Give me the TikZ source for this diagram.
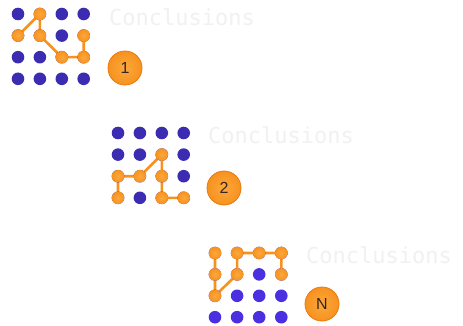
\documentclass[tikz,border=0pt]{standalone}
\usepackage{fontspec}
\newfontfamily\monofont{DejaVu Sans Mono}
\newfontfamily\badgefont{Liberation Sans}
\usetikzlibrary{backgrounds}

\definecolor{dotblue}{HTML}{3C2CB2}
\definecolor{dotblueb}{HTML}{4A30E0}
\definecolor{dotorange}{HTML}{F7921E}
\definecolor{dotorangelt}{HTML}{FBA83E}
\definecolor{badgeedge}{HTML}{E8780E}
\definecolor{badgetext}{HTML}{3A2418}
\definecolor{faint}{HTML}{F1F1F1}

\tikzset{
  bdot/.style={circle, inner sep=0pt, minimum size=12.6pt, fill=dotblue},
  bdotb/.style={bdot, fill=dotblueb},
  odot/.style={circle, inner sep=0pt, minimum size=12.6pt,
    inner color=dotorangelt, outer color=dotorange},
  link/.style={draw=dotorange, line width=2.6pt},
  badge/.style={circle, inner sep=0pt, minimum size=34pt,
    inner color=dotorangelt, outer color=dotorange, draw=badgeedge, line width=0.8pt,
    font=\badgefont\fontsize{16}{16}\selectfont, text=badgetext},
  note/.style={anchor=west, inner sep=0pt, text=faint,
    font=\monofont\fontsize{22}{22}\selectfont},
  % orange cells of the first grid
  A01/.style=odot, A10/.style=odot, A11/.style=odot, A13/.style=odot,
  A22/.style=odot, A23/.style=odot,
  % orange cells of the second grid
  B12/.style=odot, B20/.style=odot, B21/.style=odot, B22/.style=odot,
  B30/.style=odot, B32/.style=odot, B33/.style=odot,
  % orange cells of the last grid
  C00/.style=odot, C01/.style=odot, C02/.style=odot, C03/.style=odot,
  C10/.style=odot, C11/.style=odot, C13/.style=odot, C20/.style=odot,
}

\begin{document}
\begin{tikzpicture}[x=1pt, y=-1pt]
\useasboundingbox (0,0) rectangle (463,326);

% dot grids
\foreach \r in {0,...,3}
  \foreach \c in {0,...,3} {
    \node[bdot, A\r\c/.try] (A\r\c) at ({18+21.9*\c},{14+21.6*\r}) {};
    \node[bdot, B\r\c/.try] (B\r\c) at ({118+21.9*\c},{133+21.6*\r}) {};
    \node[bdotb, C\r\c/.try] (C\r\c) at ({215+22.1*\c},{253+21.4*\r}) {};
  }

% orange paths through the grids, kept behind the dots
\begin{scope}[on background layer]
  \fill[white] (0,0) rectangle (463,326);
  \draw[link] (A10.center) -- (A01.center) -- (A11.center) -- (A22.center)
    -- (A23.center) -- (A13.center);
  \draw[link] (B30.center) -- (B20.center) -- (B21.center) -- (B12.center)
    -- (B22.center) -- (B32.center) -- (B33.center);
  \draw[link] (C00.center) -- (C10.center) -- (C20.center) -- (C11.center)
    -- (C01.center) -- (C02.center) -- (C03.center) -- (C13.center);
\end{scope}

% numbered badges
\node[badge] (n1) at (125,68) {1};
\node[badge] (n2) at (224,188) {2};
\node[badge] (n3) at (322,304) {N};

% captions
\node[note] (t1) at (109,17.5) {Conclusions};
\node[note] (t2) at (208,135) {Conclusions};
\node[note] (t3) at (306,255) {Conclusions};
\end{tikzpicture}
\end{document}
